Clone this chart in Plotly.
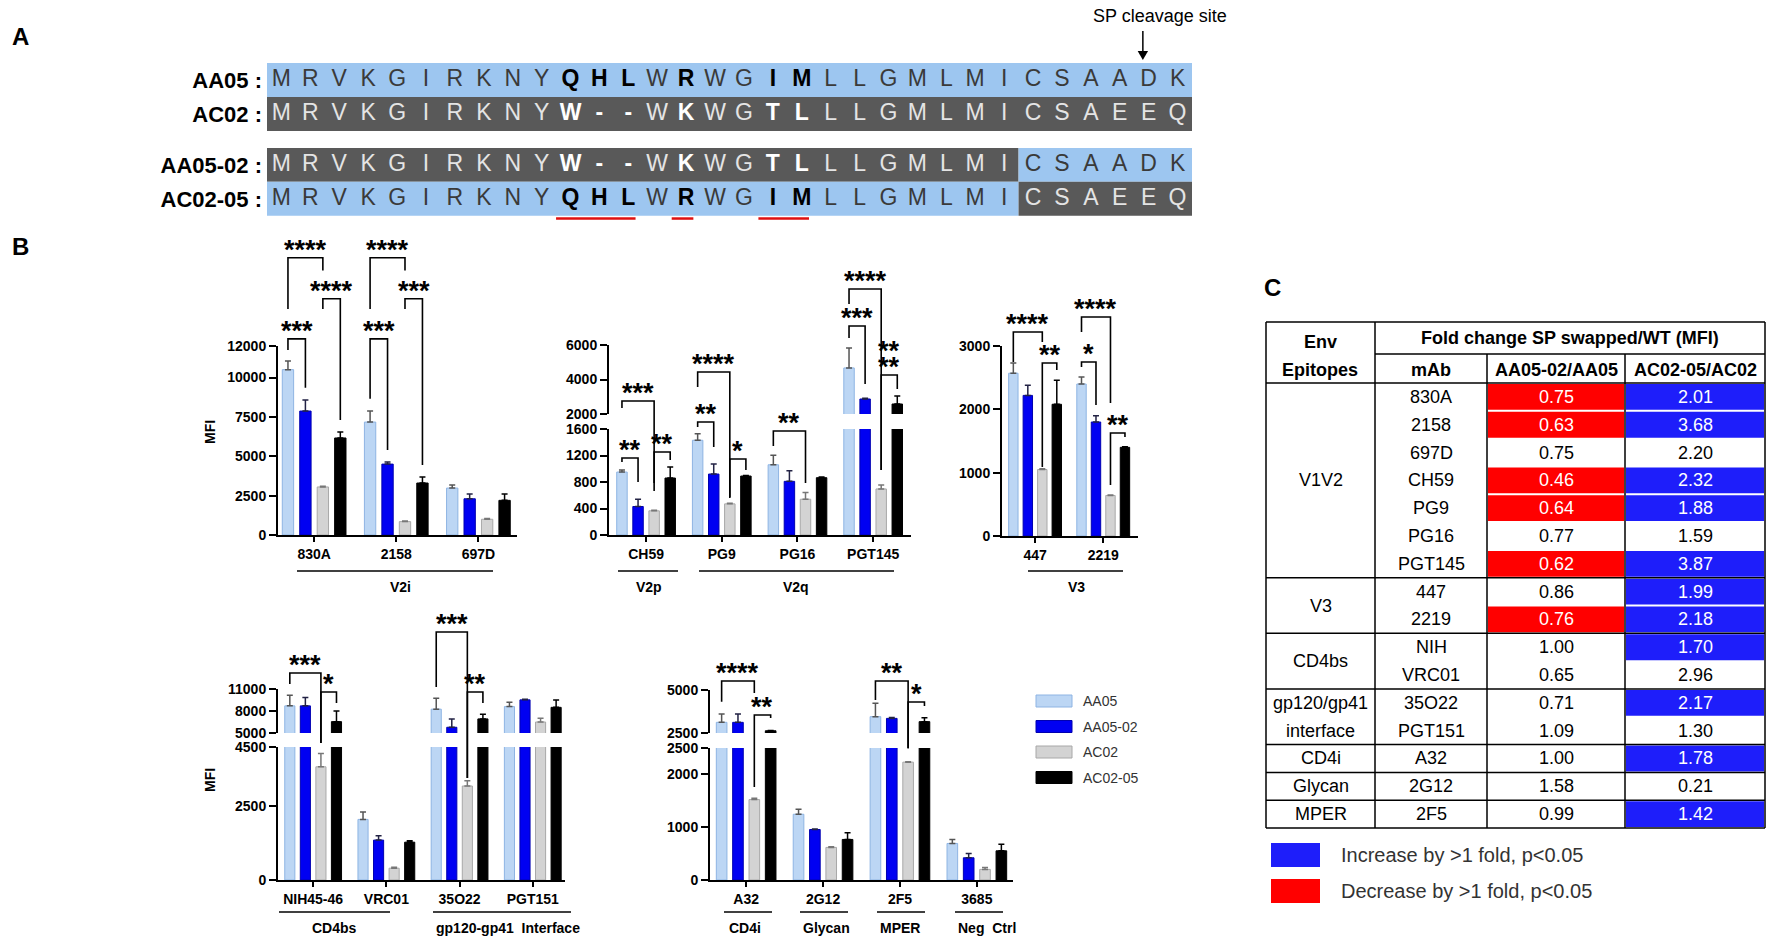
import plotly.graph_objects as go

W, H = 1772, 944
FONT = "Liberation Sans"

# ---------------- A: signal peptide alignment ----------------
seq_names = ["AA05 :", "AC02 :", "AA05-02 :", "AC02-05 :"]
seq_residues = [
    "MRVKGIRKNYQHLWRWGIMLLGMLMICSAADK",
    "MRVKGIRKNYW--WKWGTLLLGMLMICSAEEQ",
    "MRVKGIRKNYW--WKWGTLLLGMLMICSAADK",
    "MRVKGIRKNYQHLWRWGIMLLGMLMICSAEEQ",
]
# parent of every residue: A = AA05 (blue box), C = AC02 (grey box)
seq_origin = ["A" * 32, "C" * 32, "C" * 26 + "A" * 6, "A" * 26 + "C" * 6]
diff_sites = [10, 11, 12, 14, 17, 18]
underlined = [(10, 12), (14, 14), (17, 18)]

# ---------------- B: MFI bars (mean + SD) ----------------
series = ["AA05", "AA05-02", "AC02", "AC02-05"]

v2i_mab = ["830A", "2158", "697D"]
v2i_aa05 = [10500, 7170, 2980]
v2i_aa05_02 = [7870, 4500, 2300]
v2i_ac02 = [3050, 850, 1000]
v2i_ac02_05 = [6160, 3300, 2200]
v2i_sd_aa05 = [550, 700, 200]
v2i_sd_aa05_02 = [700, 130, 300]
v2i_sd_ac02 = [40, 40, 50]
v2i_sd_ac02_05 = [380, 380, 400]

v2pq_mab = ["CH59", "PG9", "PG16", "PGT145"]
v2pq_aa05 = [950, 1430, 1060, 4670]
v2pq_aa05_02 = [430, 920, 810, 2870]
v2pq_ac02 = [365, 470, 540, 695]
v2pq_ac02_05 = [860, 890, 865, 2580]
v2pq_sd_aa05 = [30, 100, 145, 1150]
v2pq_sd_aa05_02 = [110, 150, 160, 50]
v2pq_sd_ac02 = [10, 8, 100, 60]
v2pq_sd_ac02_05 = [165, 8, 10, 460]

v3_mab = ["447", "2219"]
v3_aa05 = [2570, 2400]
v3_aa05_02 = [2220, 1800]
v3_ac02 = [1050, 640]
v3_ac02_05 = [2080, 1400]
v3_sd_aa05 = [160, 110]
v3_sd_aa05_02 = [160, 100]
v3_sd_ac02 = [12, 8]
v3_sd_ac02_05 = [380, 10]

bs_mab = ["NIH45-46", "VRC01", "35O22", "PGT151"]
bs_aa05 = [8700, 2050, 8250, 8600]
bs_aa05_02 = [8700, 1350, 5780, 9520]
bs_ac02 = [3830, 400, 3180, 6500]
bs_ac02_05 = [6550, 1280, 6920, 8500]
bs_sd_aa05 = [1460, 250, 1500, 600]
bs_sd_aa05_02 = [1140, 150, 1140, 80]
bs_sd_ac02 = [450, 30, 180, 500]
bs_sd_ac02_05 = [1460, 50, 640, 1000]

ot_mab = ["A32", "2G12", "2F5", "3685"]
ot_aa05 = [3120, 1245, 3450, 692]
ot_aa05_02 = [3120, 956, 3350, 421]
ot_ac02 = [1523, 617, 2232, 201]
ot_ac02_05 = [2630, 768, 3160, 553]
ot_sd_aa05 = [480, 95, 780, 76]
ot_sd_aa05_02 = [480, 8, 50, 82]
ot_sd_ac02 = [27, 13, 8, 38]
ot_sd_ac02_05 = [20, 125, 230, 126]

# significance brackets: (mAb index, left series, right series, top, left leg end, right leg end, stars)
v2i_stars = [
    (0, 0, 2, 17600, 14350, 16800, "****"),
    (0, 2, 3, 15000, 14350, 7300, "****"),
    (0, 0, 1, 12450, 11750, 9350, "***"),
    (1, 0, 2, 17600, 14350, 16800, "****"),
    (1, 2, 3, 15000, 14350, 4450, "***"),
    (1, 0, 1, 12450, 8650, 5400, "***"),
]
v2pq_stars = [
    (0, 0, 2, 2754, 2348, 785, "***"),
    (0, 0, 1, 1162, 1102, 800, "**"),
    (0, 2, 3, 1253, 664, 1132, "**"),
    (1, 0, 2, 4435, 3565, 574, "****"),
    (1, 0, 1, 1787, 1653, 1328, "**"),
    (1, 2, 3, 1147, 558, 981, "*"),
    (2, 0, 2, 1570, 1343, 785, "**"),
    (3, 0, 2, 9246, 8377, 981, "****"),
    (3, 0, 1, 7101, 6406, 3739, "***"),
    (3, 2, 3, 4261, 981, 3449, "**|**"),
]
v3_stars = [
    (0, 0, 2, 3221, 2747, 3063, "****"),
    (0, 2, 3, 2732, 1089, 2621, "**"),
    (1, 0, 2, 3458, 3221, 2100, "****"),
    (1, 0, 1, 2747, 2668, 2068, "*"),
    (1, 2, 3, 1626, 805, 1563, "**"),
]
bs_stars = [
    (0, 0, 2, 13185, 11685, 4643, "***"),
    (0, 2, 3, 10593, 4643, 9093, "*"),
    (2, 0, 2, 18779, 11276, 3451, "***"),
    (2, 2, 3, 10593, 3451, 9093, "**"),
]
ot_stars = [
    (0, 0, 2, 5523, 4320, 4826, "****"),
    (0, 2, 3, 3547, 1761, 3372, "**"),
    (2, 0, 2, 5523, 4419, 2500, "**"),
    (2, 2, 3, 4302, 2490, 4070, "*"),
]

# ---------------- C: fold change table ----------------
tab_mab = ["830A", "2158", "697D", "CH59", "PG9", "PG16", "PGT145", "447", "2219",
           "NIH", "VRC01", "35O22", "PGT151", "A32", "2G12", "2F5"]
tab_aa = ["0.75", "0.63", "0.75", "0.46", "0.64", "0.77", "0.62", "0.86", "0.76",
          "1.00", "0.65", "0.71", "1.09", "1.00", "1.58", "0.99"]
tab_ac = ["2.01", "3.68", "2.20", "2.32", "1.88", "1.59", "3.87", "1.99", "2.18",
          "1.70", "2.96", "2.17", "1.30", "1.78", "0.21", "1.42"]
tab_aa_down = [1, 1, 0, 1, 1, 0, 1, 0, 1, 0, 0, 0, 0, 0, 0, 0]
tab_ac_up = [1, 1, 0, 1, 1, 0, 1, 1, 1, 1, 0, 1, 0, 1, 0, 1]
epitope_names = ["V1V2", "V3", "CD4bs", "gp120/gp41|interface", "CD4i", "Glycan", "MPER"]
epitope_rows = [7, 2, 2, 2, 1, 1, 1]


def X(p):
    return p / W


def Y(p):
    return 1 - p / H


BOLD14 = dict(family=FONT, size=14, color="black", weight="bold")
BARGAP = 0.15
OFF = [-(1 - BARGAP) / 2 + (k + 0.5) * (1 - BARGAP) / 4 for k in range(4)]
bar_fill = ["#BCD6F4", "#0000F2", "#D3D3D3", "#000000"]
bar_edge = ["#8EB4E3", "#0000B0", "#A8A8A8", "#000000"]
err_col = ["#555555", "#222244", "#777777", "#000000"]

fig = go.Figure()
shapes, annos, lay = [], [], {}


def note(xp, yp, text, font, xanchor="center", **kw):
    annos.append(dict(x=X(xp), y=Y(yp), xref="paper", yref="paper", text=text, showarrow=False,
                      xanchor=xanchor, yanchor="middle", font=font, **kw))


# ---- panel A ----
row_y = [0, -1, -2.5, -3.5]
lay["xaxis"] = dict(domain=[X(267), X(1192)], range=[-0.5, 31.5], visible=False, anchor="y")
lay["yaxis"] = dict(domain=[Y(226), Y(63)], range=[-4.3, 0.5], anchor="x", showgrid=False,
                    zeroline=False, showline=False, ticks="", tickvals=row_y, ticktext=seq_names,
                    tickfont=dict(family=FONT, size=22, color="black", weight="bold"),
                    ticklabelstandoff=4)
for r, org in enumerate(seq_origin):
    start = 0
    for i in range(1, len(org) + 1):
        if i == len(org) or org[i] != org[start]:
            shapes.append(dict(type="rect", xref="x", yref="y", x0=start - 0.5, x1=i - 0.5,
                               y0=row_y[r] - 0.5, y1=row_y[r] + 0.5, layer="below",
                               fillcolor="#9DC6F0" if org[start] == "A" else "#595959",
                               line=dict(width=0)))
            start = i
xs, ys, txt, col = [], [], [], []
for r, (seq, org) in enumerate(zip(seq_residues, seq_origin)):
    for i, (aa, o) in enumerate(zip(seq, org)):
        bold = i in diff_sites
        xs.append(i)
        ys.append(row_y[r])
        txt.append(f"<b>{aa}</b>" if bold else aa)
        if o == "A":
            col.append("#000000" if bold else "#3A3A3A")
        else:
            col.append("#FFFFFF" if bold else "#E4E4E4")
fig.add_trace(go.Scatter(x=xs, y=ys, mode="text", text=txt, xaxis="x", yaxis="y",
                         textfont=dict(family=FONT, size=23, color=col),
                         hoverinfo="skip", showlegend=False))
for a, b in underlined:
    shapes.append(dict(type="line", xref="x", yref="y", x0=a - 0.5, x1=b + 0.25, y0=-4.08, y1=-4.08,
                       line=dict(color="#E01010", width=2.5)))

# SP cleavage arrow (between A29 and D30) and its caption
cleave_x = 29.8
shapes.append(dict(type="line", xref="x", yref="paper", x0=cleave_x, x1=cleave_x,
                   y0=Y(31), y1=Y(52), line=dict(color="black", width=1.5)))
shapes.append(dict(type="path", xref="x", yref="paper", fillcolor="black", line=dict(width=0),
                   path=f"M {cleave_x - 0.18},{Y(51)} L {cleave_x + 0.18},{Y(51)} "
                        f"L {cleave_x},{Y(60)} Z"))
note(1160, 16, "SP cleavage site", dict(family=FONT, size=18, color="black"))

# ---- panel B ----
charts = [
    dict(mab=v2i_mab, mean=[v2i_aa05, v2i_aa05_02, v2i_ac02, v2i_ac02_05],
         sd=[v2i_sd_aa05, v2i_sd_aa05_02, v2i_sd_ac02, v2i_sd_ac02_05], stars=v2i_stars,
         xpx=(278, 517), xr=(-0.44, 2.47),
         segs=[(0, 12000, 535, 346, [0, 2500, 5000, 7500, 10000, 12000])],
         groups=[("V2i", 297, 493, 400)], gy=(571, 587), mfi=432),
    dict(mab=v2pq_mab, mean=[v2pq_aa05, v2pq_aa05_02, v2pq_ac02, v2pq_ac02_05],
         sd=[v2pq_sd_aa05, v2pq_sd_aa05_02, v2pq_sd_ac02, v2pq_sd_ac02_05], stars=v2pq_stars,
         xpx=(609, 911), xr=(-0.49, 3.5),
         segs=[(0, 1600, 535, 429, [0, 400, 800, 1200, 1600]),
               (2000, 6000, 414, 345, [2000, 4000, 6000])],
         groups=[("V2p", 618, 678, 649), ("V2q", 699, 894, 796)], gy=(571, 587), mfi=None),
    dict(mab=v3_mab, mean=[v3_aa05, v3_aa05_02, v3_ac02, v3_ac02_05],
         sd=[v3_sd_aa05, v3_sd_aa05_02, v3_sd_ac02, v3_sd_ac02_05], stars=v3_stars,
         xpx=(1002, 1138), xr=(-0.485, 1.51),
         segs=[(0, 3000, 536, 346, [0, 1000, 2000, 3000])],
         groups=[("V3", 1028, 1123, 1076)], gy=(571, 587), mfi=None),
    dict(mab=bs_mab, mean=[bs_aa05, bs_aa05_02, bs_ac02, bs_ac02_05],
         sd=[bs_sd_aa05, bs_sd_aa05_02, bs_sd_ac02, bs_sd_ac02_05], stars=bs_stars,
         xpx=(278, 565), xr=(-0.48, 3.44),
         segs=[(0, 4500, 880, 747, [0, 2500, 4500]), (5000, 11000, 733, 689, [5000, 8000, 11000])],
         groups=[("CD4bs", 279, 390, 334), ("gp120-gp41  Interface", 433, 571, 508)],
         gy=(912, 928), mfi=780),
    dict(mab=ot_mab, mean=[ot_aa05, ot_aa05_02, ot_ac02, ot_ac02_05],
         sd=[ot_sd_aa05, ot_sd_aa05_02, ot_sd_ac02, ot_sd_ac02_05], stars=ot_stars,
         xpx=(710, 1013), xr=(-0.47, 3.47),
         segs=[(0, 2500, 880, 748, [0, 1000, 2000, 2500]), (2500, 5000, 733, 690, [2500, 5000])],
         groups=[("CD4i", 724, 772, 745), ("Glycan", 800, 848, 826), ("MPER", 877, 925, 900),
                 ("Neg  Ctrl", 955, 1003, 987)],
         gy=(912, 928), mfi=None),
]


def seg_px(segs, v):
    prev = None
    for i, (lo, hi, pb, pt, _) in enumerate(segs):
        if prev is not None and v < lo:
            return prev[1] + (v - prev[0]) / (lo - prev[0]) * (pb - prev[1])
        if v <= hi or i == len(segs) - 1:
            return pb + (v - lo) / (hi - lo) * (pt - pb)
        prev = (hi, pt)


n = 2
for ch in charts:
    base = n
    cats = list(range(len(ch["mab"])))
    for s, (lo, hi, pb, pt, ticks) in enumerate(ch["segs"]):
        xk = dict(domain=[X(ch["xpx"][0]), X(ch["xpx"][1])], anchor=f"y{n}",
                  showgrid=False, zeroline=False)
        if s == 0:
            xk.update(range=list(ch["xr"]), showline=True, linecolor="black", linewidth=2,
                      ticks="outside", ticklen=5, tickwidth=2, tickcolor="black",
                      tickvals=cats, ticktext=ch["mab"], tickfont=BOLD14)
        else:
            xk.update(matches=f"x{base}", visible=False)
        lay[f"xaxis{n}"] = xk
        lay[f"yaxis{n}"] = dict(domain=[Y(pb), Y(pt)], range=[lo, hi], anchor=f"x{n}",
                                showgrid=False, zeroline=False, showline=True, linecolor="black",
                                linewidth=2, ticks="outside", ticklen=7, tickwidth=2,
                                tickcolor="black", tickvals=ticks,
                                ticktext=[str(t) for t in ticks], tickfont=BOLD14)
        for k in range(4):
            fig.add_trace(go.Bar(
                x=cats, y=ch["mean"][k], name=series[k], xaxis=f"x{n}", yaxis=f"y{n}",
                marker=dict(color=bar_fill[k], line=dict(color=bar_edge[k], width=1)),
                error_y=dict(type="data", symmetric=False, array=ch["sd"][k],
                             arrayminus=[0] * len(cats), color=err_col[k], thickness=1.5, width=3),
                showlegend=False, hoverinfo="skip"))
        n += 1

    segs = ch["segs"]
    for c, i, j, top, le, re_, lab in ch["stars"]:
        xi, xj = c + OFF[i], c + OFF[j]
        yt = Y(seg_px(segs, top))
        shapes.append(dict(type="path", xref=f"x{base}", yref="paper",
                           path=f"M {xi},{Y(seg_px(segs, le))} L {xi},{yt} L {xj},{yt} "
                                f"L {xj},{Y(seg_px(segs, re_))}",
                           line=dict(color="black", width=1.6)))
        for li, t in enumerate(reversed(lab.split("|"))):
            annos.append(dict(x=(xi + xj) / 2, y=yt, xref=f"x{base}", yref="paper", text=t,
                              showarrow=False, xanchor="center", yanchor="middle",
                              yshift=8 + 16 * li,
                              font=dict(family=FONT, size=27, color="black", weight="bold")))
    for name, x0, x1, xc in ch["groups"]:
        shapes.append(dict(type="line", xref="paper", yref="paper", x0=X(x0), x1=X(x1),
                           y0=Y(ch["gy"][0]), y1=Y(ch["gy"][0]), line=dict(color="black", width=1.5)))
        note(xc, ch["gy"][1], name, BOLD14)
    if ch["mfi"]:
        note(210, ch["mfi"], "MFI", BOLD14, textangle=-90)

# legend of panel B
for k, name in enumerate(series):
    yc = 701 + 25.5 * k
    shapes.append(dict(type="rect", xref="paper", yref="paper", x0=X(1036), x1=X(1072),
                       y0=Y(yc + 6), y1=Y(yc - 6), fillcolor=bar_fill[k],
                       line=dict(color=bar_edge[k], width=1)))
    note(1081, yc, name, dict(family=FONT, size=14, color="#333333"), xanchor="left")

# ---- panel C table ----
cols = [1266, 1375, 1487, 1625, 1765]
t_top, t_mid, t_head, t_bot = 322, 354, 383, 828
rh = (t_bot - t_head) / len(tab_mab)
TXT = dict(family=FONT, size=18, color="black")
TXTB = dict(family=FONT, size=18, color="black", weight="bold")

for r in range(len(tab_mab)):
    y0 = t_head + r * rh
    for ci, flag, colr, val in ((2, tab_aa_down[r], "#FF0000", tab_aa[r]),
                                (3, tab_ac_up[r], "#1E1EFA", tab_ac[r])):
        if flag:
            shapes.append(dict(type="rect", xref="paper", yref="paper",
                               x0=X(cols[ci] + 1), x1=X(cols[ci + 1] - 1),
                               y0=Y(y0 + rh - 1), y1=Y(y0 + 1), fillcolor=colr, line=dict(width=0)))
        note((cols[ci] + cols[ci + 1]) / 2, y0 + rh / 2, val,
             dict(TXT, color="white") if flag else TXT)
    note((cols[1] + cols[2]) / 2, y0 + rh / 2, tab_mab[r], TXT)

LN = dict(color="black", width=1.5)


def hl(y, x0, x1):
    shapes.append(dict(type="line", xref="paper", yref="paper", x0=X(x0), x1=X(x1),
                       y0=Y(y), y1=Y(y), line=LN))


def vl(x, y0, y1):
    shapes.append(dict(type="line", xref="paper", yref="paper", x0=X(x), x1=X(x),
                       y0=Y(y0), y1=Y(y1), line=LN))


hl(t_top, cols[0], cols[4])
hl(t_mid, cols[1], cols[4])
hl(t_head, cols[0], cols[4])
hl(t_bot, cols[0], cols[4])
vl(cols[0], t_top, t_bot)
vl(cols[1], t_top, t_bot)
vl(cols[2], t_mid, t_bot)
vl(cols[3], t_mid, t_bot)
vl(cols[4], t_top, t_bot)
start = 0
for name, cnt in zip(epitope_names, epitope_rows):
    parts = name.split("|")
    if len(parts) == cnt and cnt > 1:
        for p, part in enumerate(parts):
            note((cols[0] + cols[1]) / 2, t_head + (start + p + 0.5) * rh, part, TXT)
    else:
        note((cols[0] + cols[1]) / 2, t_head + (start + cnt / 2) * rh, name, TXT)
    start += cnt
    if start < len(tab_mab):
        hl(t_head + start * rh, cols[0], cols[4])

note(1320, 342, "Env", TXTB)
note(1320, 370, "Epitopes", TXTB)
note((cols[1] + cols[4]) / 2, 338, "Fold change SP swapped/WT (MFI)", TXTB)
note((cols[1] + cols[2]) / 2, 370, "mAb", TXTB)
note((cols[2] + cols[3]) / 2, 370, "AA05-02/AA05", TXTB)
note((cols[3] + cols[4]) / 2, 370, "AC02-05/AC02", TXTB)

for yc, colr, label in ((855, "#1E1EFA", "Increase by >1 fold, p&lt;0.05"),
                        (891, "#FF0000", "Decrease by >1 fold, p&lt;0.05")):
    shapes.append(dict(type="rect", xref="paper", yref="paper", x0=X(1271), x1=X(1320),
                       y0=Y(yc + 12), y1=Y(yc - 12), fillcolor=colr, line=dict(width=0)))
    note(1339, yc, label, dict(family=FONT, size=20, color="#333333"), xanchor="left")

# panel letters
for letter, px_, py_ in (("A", 20, 37), ("B", 20, 246), ("C", 1272, 287)):
    note(px_, py_, letter, dict(family=FONT, size=24, color="black", weight="bold"))

fig.update_layout(
    width=W, height=H, autosize=False, margin=dict(l=0, r=0, t=0, b=0),
    template="none", paper_bgcolor="white", plot_bgcolor="white", showlegend=False,
    barmode="group", bargap=BARGAP, bargroupgap=0.35,
    shapes=shapes, annotations=annos, **lay)

fig.write_html("out.html", config={"displayModeBar": False},
               post_script="document.body.style.margin='0px';")
